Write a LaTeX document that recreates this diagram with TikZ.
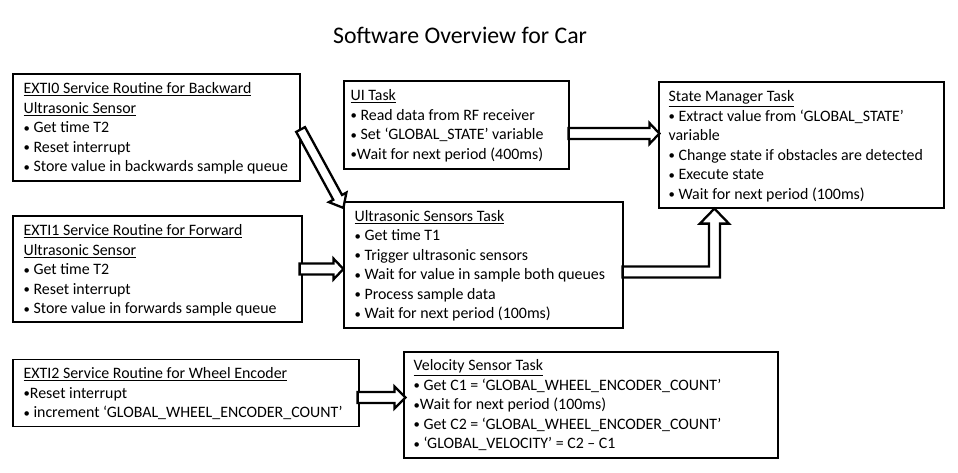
\documentclass[tikz,border=0pt]{standalone}
\usepackage{fontspec}
\usepackage{graphicx}
\setmainfont{Carlito}
\usetikzlibrary{calc}
\newcommand\bul{\raisebox{0.6pt}{\scalebox{0.8}{•}}}
\newcommand\blockarrow[5]{% #1 tail, #2 tip, #3 half shaft, #4 half head, #5 head length
  \coordinate (ba-h) at ($(#2)!#5!(#1)$);
  \draw[blockarr] ($(#1)!#3!90:(#2)$) -- ($(ba-h)!#3!90:(#2)$) -- ($(ba-h)!#4!90:(#2)$) -- (#2)
     -- ($(ba-h)!#4!-90:(#2)$) -- ($(ba-h)!#3!-90:(#2)$) -- ($(#1)!#3!-90:(#2)$) -- cycle;
}
\begin{document}
\begin{tikzpicture}[x=1pt,y=-1pt,
  box/.style={draw=black, line width=1.2pt, anchor=center, inner sep=0pt},
  txt/.style={anchor=north west, inner sep=0pt, align=left, font=\fontsize{15.9}{19.5}\selectfont},
  blockarr/.style={draw=black, fill=white, line width=2.3pt, line join=miter}]
\useasboundingbox[fill=white] (0,0) rectangle (958,473);

\node[font=\fontsize{23.8}{28}\selectfont] (title) at (460,35) {Software Overview for Car};

% boxes
\node[box, minimum width=287pt, minimum height=107pt] (ex0) at (156.5,127.5) {};
\node[box, minimum width=225pt, minimum height=88pt] (ui) at (456.5,125) {};
\node[box, minimum width=285pt, minimum height=126pt] (sm) at (801.5,145) {};
\node[box, minimum width=289pt, minimum height=106pt] (ex1) at (157.5,269) {};
\node[box, minimum width=279pt, minimum height=126pt] (us) at (483.5,265) {};
\node[box, minimum width=346pt, minimum height=67pt] (ex2) at (186,393) {};
\node[box, minimum width=374pt, minimum height=106pt] (vs) at (591,405) {};

% texts
\node[txt] (ex0t) at ($(ex0.north west)+(11,6.5)$) {\strut\underline{EXTI0 Service Routine for Backward}\\
\underline{Ultrasonic Sensor}\\
\bul{} Get time T2\\
\bul{} Reset interrupt\\
\bul{} Store value in backwards sample queue};

\node[txt] (uit) at ($(ui.north west)+(7,6.5)$) {\strut\underline{UI Task}\\
\bul{} Read data from RF receiver\\
\bul{} Set ‘GLOBAL\_STATE’ variable\\
\bul{}Wait for next period (400ms)};

\node[txt] (smt) at ($(sm.north west)+(10,6.5)$) {\strut\underline{State Manager Task}\\
\bul{} Extract value from ‘GLOBAL\_STATE’\\
variable\\
\bul{} Change state if obstacles are detected\\
\bul{} Execute state\\
\bul{} Wait for next period (100ms)};

\node[txt] (ex1t) at ($(ex1.north west)+(11,6.5)$) {\strut\underline{EXTI1 Service Routine for Forward}\\
\underline{Ultrasonic Sensor}\\
\bul{} Get time T2\\
\bul{} Reset interrupt\\
\bul{} Store value in forwards sample queue};

\node[txt] (ust) at ($(us.north west)+(11,6)$) {\strut\underline{Ultrasonic Sensors Task}\\
\bul{} Get time T1\\
\bul{} Trigger ultrasonic sensors\\
\bul{} Wait for value in sample both queues\\
\bul{} Process sample data\\
\bul{} Wait for next period (100ms)};

\node[txt] (ex2t) at ($(ex2.north west)+(11,6)$) {\strut\underline{EXTI2 Service Routine for Wheel Encoder}\\
\bul{}Reset interrupt\\
\bul{} increment ‘GLOBAL\_WHEEL\_ENCODER\_COUNT’};

\node[txt] (vst) at ($(vs.north west)+(10,5.5)$) {\strut\underline{Velocity Sensor Task}\\
\bul{} Get C1 = ‘GLOBAL\_WHEEL\_ENCODER\_COUNT’\\
\bul{}Wait for next period (100ms)\\
\bul{} Get C2 = ‘GLOBAL\_WHEEL\_ENCODER\_COUNT’\\
\bul{} ‘GLOBAL\_VELOCITY’ = C2 – C1};

% connectors
\coordinate (a1t) at ($(ex0.east)+(0,2)$);
\coordinate (a1h) at ($(us.north west)+(0,6.5)$);
\blockarrow{a1t}{a1h}{5pt}{10pt}{12pt}

\coordinate (a2t) at ($(ex1.east)+(-3,0)$);
\coordinate (a2h) at (a2t -| us.west);
\blockarrow{a2t}{a2h}{5.5pt}{10.5pt}{10pt}

\coordinate (a3t) at ($(ui.east)+(-1,8.5)$);
\coordinate (a3h) at ($(a3t -| sm.west)+(1,0)$);
\blockarrow{a3t}{a3h}{5.5pt}{10.5pt}{10pt}

\coordinate (a4t) at ($(ex2.east)+(-2,4.5)$);
\coordinate (a4h) at ($(a4t -| vs.west)+(2,0)$);
\blockarrow{a4t}{a4h}{5.5pt}{11pt}{11pt}

% elbow arrow from Ultrasonic Sensors Task to State Manager Task
\coordinate (a5t) at ($(us.east)+(-1,7)$);
\coordinate (a5h) at ($(sm.south west)+(56,0)$);
\draw[blockarr] ($(a5t)+(0,-5.5)$) -- ($(a5t -| a5h)+(-5.5,-5.5)$) -- ($(a5h)+(-5.5,15)$)
  -- ($(a5h)+(-14.5,15)$) -- (a5h) -- ($(a5h)+(14.5,15)$) -- ($(a5h)+(5.5,15)$)
  -- ($(a5t -| a5h)+(5.5,5.5)$) -- ($(a5t)+(0,5.5)$) -- cycle;
\end{tikzpicture}
\end{document}
